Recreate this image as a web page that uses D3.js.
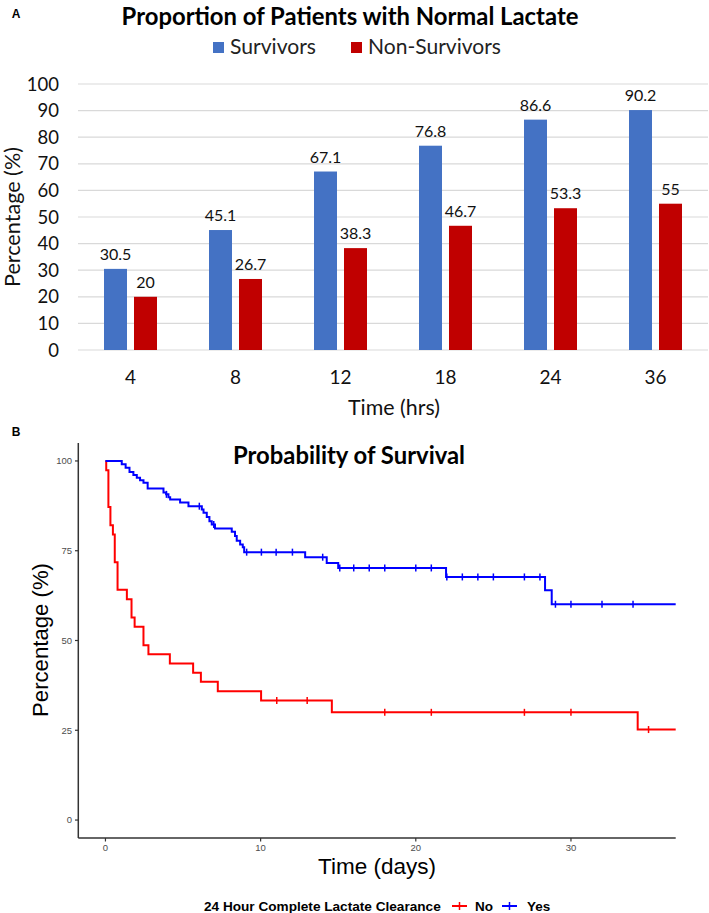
<!DOCTYPE html>
<html><head><meta charset="utf-8">
<script src="https://cdn.jsdelivr.net/npm/d3@7"></script>
<style>body{margin:0;background:#fff}svg{display:block}</style>
</head><body>
<script>
// ---------- Panel A data ----------
const categories = ["4","8","12","18","24","36"];
const survivors = [30.5,45.1,67.1,76.8,86.6,90.2];
const nonSurvivors = [20,26.7,38.3,46.7,53.3,55];
const seriesNames = ["Survivors","Non-Survivors"];
const yTicksA = [0,10,20,30,40,50,60,70,80,90,100];

// ---------- Panel B data (Kaplan-Meier steps) ----------
const noTimes = [0,0.05,0.19,0.32,0.48,0.6,0.78,1.38,1.68,1.88,2.45,2.77,4.15,5.65,6.15,7.24,10.03,14.59,34.3];
const noSurv  = [100,97.4,87.2,82.1,79.5,71.8,64.1,61.5,56.4,53.8,48.7,46.2,43.6,41.0,38.5,35.9,33.3,30.0,25.2];
const noCensor = [11.04,13.0,18.0,21.0,27.0,30.0,35.0];
const yesTimes = [0,1.05,1.3,1.55,1.8,2.02,2.23,2.45,2.72,3.74,3.91,4.06,4.17,4.81,5.35,6.21,6.32,6.53,6.7,6.85,7.06,8.14,8.35,8.46,8.68,8.85,8.94,12.87,14.26,15.0,21.95,28.33,28.76];
const yesSurv  = [100,99.1,98.1,96.9,96.1,95.3,94.6,93.9,92.3,91.2,90.7,89.9,89.3,88.4,87.4,86.5,85.6,84.4,83.2,82.3,81.2,80.3,79.1,77.8,76.7,76.0,74.6,73.2,71.6,70.2,67.7,64.0,60.1];
const yesCensor = [3.93,6.05,6.98,9.1,10.05,11.0,12.05,14.0,15.1,16.0,17.0,18.0,20.0,21.0,22.0,23.0,24.0,25.0,27.0,28.0,29.0,30.0,32.0,34.0];
const groupNames = ["No","Yes"];
const xTicksB = [0,10,20,30];
const yTicksB = [0,25,50,75,100];
const endTime = 36.75;

const W = 709, H = 913;
const calib = "Lato, 'Open Sans', sans-serif";
const helv = "'Liberation Sans', Arial, sans-serif";
const svg = d3.select("body").append("svg").attr("width", W).attr("height", H);

function fit(sel, w){
  const l = sel.node().getComputedTextLength();
  const f = parseFloat(sel.attr("font-size"));
  sel.attr("font-size", (f*w/l).toFixed(2));
  return sel;
}

// ================= Panel A =================
svg.append("text").attr("x",16).attr("y",18).attr("text-anchor","middle")
  .attr("font-family",helv).attr("font-weight","bold").attr("font-size",12).text("A");

const tA = svg.append("text").attr("x",350).attr("y",25).attr("text-anchor","middle")
  .attr("font-family",calib).attr("font-weight","bold").attr("font-size",24)
  .text("Proportion of Patients with Normal Lactate");
fit(tA,457);

const colorsA = ["#4472C4","#C00000"];
// legend
const legA = [{x:213, tw:86},{x:351, tw:133}];
seriesNames.forEach((n,i)=>{
  svg.append("rect").attr("x",legA[i].x).attr("y",42).attr("width",11).attr("height",11).attr("fill",colorsA[i]);
  const t = svg.append("text").attr("x",legA[i].x+17).attr("y",54)
    .attr("font-family",calib).attr("font-size",20).attr("fill","#222").text(n);
  fit(t, legA[i].tw);
});

const xA = d3.scaleBand().domain(categories).range([78,708]).paddingInner(0).paddingOuter(0);
const xSub = d3.scaleBand().domain(seriesNames).range([0,xA.bandwidth()]).paddingInner(7/30).paddingOuter(0.8667);
const yA = d3.scaleLinear().domain([0,100]).range([350,84]);

// gridlines
svg.append("g").selectAll("line").data(yTicksA).join("line")
  .attr("x1",78).attr("x2",708).attr("y1",d=>yA(d)).attr("y2",d=>yA(d))
  .attr("stroke","#d9d9d9").attr("stroke-width",1.2);

// y tick labels
svg.append("g").selectAll("text").data(yTicksA).join("text")
  .attr("x",59).attr("y",d=>yA(d)).attr("dy","0.36em").attr("text-anchor","end")
  .attr("font-family",calib).attr("font-size",18.5).attr("fill","#111").text(d=>d);

// bars
const seriesVals = [survivors, nonSurvivors];
seriesNames.forEach((s,si)=>{
  const g = svg.append("g");
  g.selectAll("rect").data(seriesVals[si]).join("rect")
    .attr("x",(d,i)=>xA(categories[i])+xSub(s))
    .attr("width",xSub.bandwidth())
    .attr("y",d=>yA(d)).attr("height",d=>yA(0)-yA(d))
    .attr("fill",colorsA[si]);
  g.selectAll("text").data(seriesVals[si]).join("text")
    .attr("x",(d,i)=>xA(categories[i])+xSub(s)+xSub.bandwidth()/2)
    .attr("y",d=>yA(d)-9).attr("text-anchor","middle")
    .attr("font-family",calib).attr("font-size",16).attr("fill","#111").text(d=>String(d));
});

// category labels
svg.append("g").selectAll("text").data(categories).join("text")
  .attr("x",d=>xA(d)+xA.bandwidth()/2).attr("y",377).attr("dy","0.36em").attr("text-anchor","middle")
  .attr("font-family",calib).attr("font-size",19).attr("fill","#111").text(d=>d);

const txA = svg.append("text").attr("x",394).attr("y",415).attr("text-anchor","middle")
  .attr("font-family",calib).attr("font-size",20).attr("fill","#111").text("Time (hrs)");
fit(txA,92);
const tyA = svg.append("text").attr("transform","translate(20,217) rotate(-90)").attr("text-anchor","middle")
  .attr("font-family",calib).attr("font-size",20).attr("fill","#111").text("Percentage (%)");
fit(tyA,140);

// ================= Panel B =================
svg.append("text").attr("x",16).attr("y",436).attr("text-anchor","middle")
  .attr("font-family",helv).attr("font-weight","bold").attr("font-size",12).text("B");

const xB = d3.scaleLinear().domain([-1.75,36.75]).range([78.3,675.7]);
const yB = d3.scaleLinear().domain([-5,105]).range([838,443]);

// axes lines
svg.append("line").attr("x1",78.3).attr("x2",78.3).attr("y1",443).attr("y2",838).attr("stroke","#333").attr("stroke-width",1.5);
svg.append("line").attr("x1",78.3).attr("x2",675.7).attr("y1",838).attr("y2",838).attr("stroke","#333").attr("stroke-width",1.5);

// ticks
svg.append("g").selectAll("line").data(yTicksB).join("line")
  .attr("x1",75).attr("x2",78.3).attr("y1",d=>yB(d)).attr("y2",d=>yB(d)).attr("stroke","#333").attr("stroke-width",1.2);
svg.append("g").selectAll("text").data(yTicksB).join("text")
  .attr("x",72).attr("y",d=>yB(d)).attr("dy","0.35em").attr("text-anchor","end")
  .attr("font-family",helv).attr("font-size",9.5).attr("fill","#4d4d4d").text(d=>d);
svg.append("g").selectAll("line").data(xTicksB).join("line")
  .attr("x1",d=>xB(d)).attr("x2",d=>xB(d)).attr("y1",838).attr("y2",841.5).attr("stroke","#333").attr("stroke-width",1.2);
svg.append("g").selectAll("text").data(xTicksB).join("text")
  .attr("x",d=>xB(d)).attr("y",848).attr("dy","0.35em").attr("text-anchor","middle")
  .attr("font-family",helv).attr("font-size",9.5).attr("fill","#4d4d4d").text(d=>d);

const colorsB = ["#FF0000","#0000FF"];
const curves = [
  {times:noTimes, surv:noSurv, cens:noCensor},
  {times:yesTimes, surv:yesSurv, cens:yesCensor}
];
const line = d3.line().x(d=>xB(d[0])).y(d=>yB(d[1])).curve(d3.curveStepAfter);
function survAt(c,t){ let v=c.surv[0]; c.times.forEach((tt,i)=>{ if(tt<=t) v=c.surv[i]; }); return v; }
[0,1].forEach(gi=>{
  const c = curves[gi];
  const pts = c.times.map((t,i)=>[t,c.surv[i]]);
  pts.push([endTime, c.surv[c.surv.length-1]]);
  svg.append("path").attr("d",line(pts)).attr("fill","none").attr("stroke",colorsB[gi]).attr("stroke-width",2);
  svg.append("g").selectAll("line").data(c.cens).join("line")
    .attr("x1",d=>xB(d)).attr("x2",d=>xB(d))
    .attr("y1",d=>yB(survAt(c,d))-3.5).attr("y2",d=>yB(survAt(c,d))+3.5)
    .attr("stroke",colorsB[gi]).attr("stroke-width",1.5);
});

const tB = svg.append("text").attr("x",349).attr("y",464).attr("text-anchor","middle")
  .attr("font-family",calib).attr("font-weight","bold").attr("font-size",22).text("Probability of Survival");
fit(tB,232);

const txB = svg.append("text").attr("x",377).attr("y",874).attr("text-anchor","middle")
  .attr("font-family",helv).attr("font-size",22).attr("fill","#000").text("Time (days)");
fit(txB,118);
const tyB = svg.append("text").attr("transform","translate(48,640) rotate(-90)").attr("text-anchor","middle")
  .attr("font-family",helv).attr("font-size",22).attr("fill","#000").text("Percentage (%)");
fit(tyB,154);

// legend B
const lt = svg.append("text").attr("x",204).attr("y",911)
  .attr("font-family",helv).attr("font-weight","bold").attr("font-size",13.5).text("24 Hour Complete Lactate Clearance");
fit(lt,237);
const keyX = [452,502], labX = [475,527];
groupNames.forEach((n,i)=>{
  svg.append("line").attr("x1",keyX[i]).attr("x2",keyX[i]+15).attr("y1",906).attr("y2",906).attr("stroke",colorsB[i]).attr("stroke-width",2);
  svg.append("line").attr("x1",keyX[i]+7.5).attr("x2",keyX[i]+7.5).attr("y1",902).attr("y2",910).attr("stroke",colorsB[i]).attr("stroke-width",1.5);
  svg.append("text").attr("x",labX[i]).attr("y",911).attr("font-family",helv).attr("font-weight","bold").attr("font-size",13.5).text(n);
});
</script>
</body></html>
